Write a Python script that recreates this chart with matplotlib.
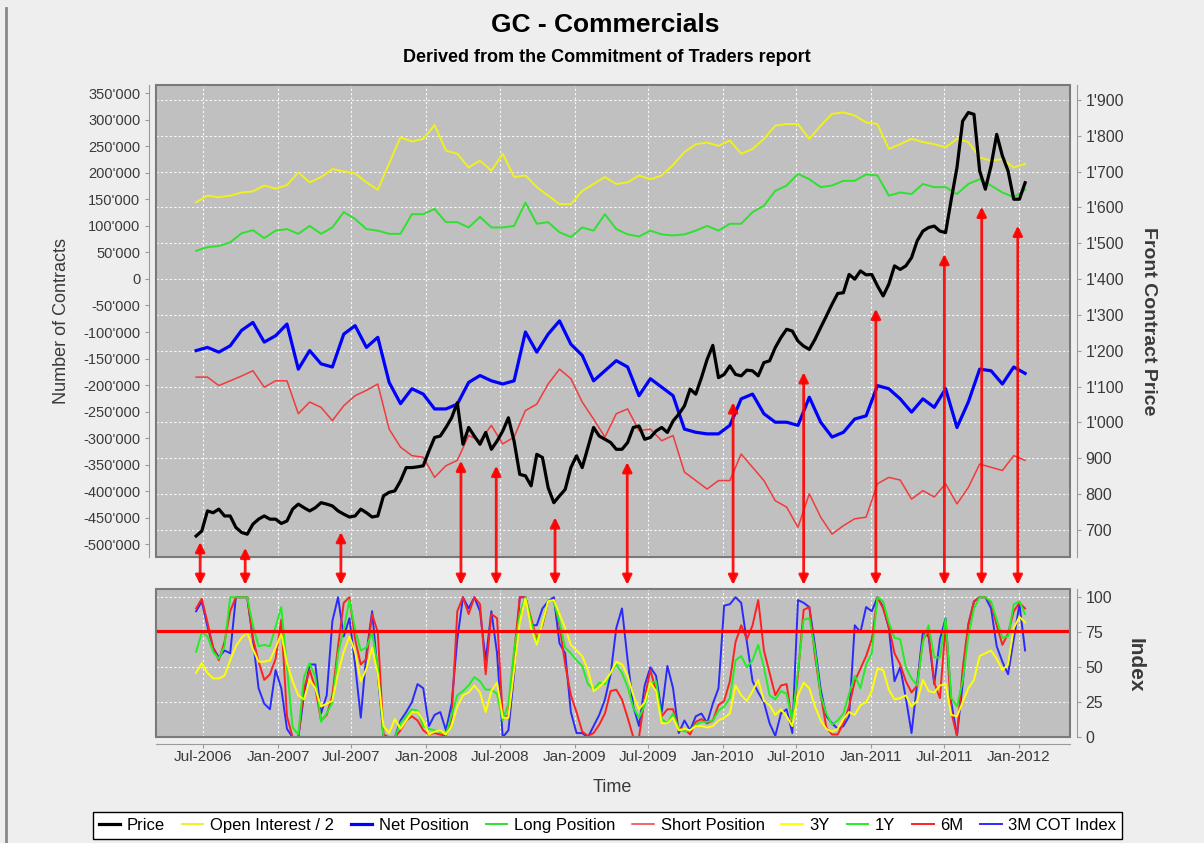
import matplotlib
matplotlib.use("Agg")
import matplotlib.pyplot as plt
import matplotlib.dates as mdates
import matplotlib.transforms as mtransforms
from matplotlib.patches import ConnectionPatch, Rectangle
from matplotlib.lines import Line2D
from matplotlib.ticker import FuncFormatter
import pandas as pd

# COT report dates (Tuesdays), sampled every 4 weeks for positions, 2 weeks for price / index
dates_4w = pd.date_range("2006-06-13", periods=74, freq="28D")
dates_2w = pd.date_range("2006-06-13", periods=147, freq="14D")

# positions, thousands of contracts
open_interest_half = [144.5, 157, 154, 157, 163, 165, 176, 170, 177, 201,
                      182, 192, 207, 203, 199, 182, 168, 218, 267, 259,
                      264, 290, 242, 236, 210, 223, 204, 236, 192, 195,
                      173, 157, 141, 141, 166, 179, 192, 179, 182, 195,
                      188, 195, 215, 239, 254, 257, 251, 261, 236, 245,
                      264, 289, 292, 292, 264, 289, 311, 314, 308, 295,
                      292, 245, 254, 264, 258, 254, 248, 264, 258, 229,
                      223, 226, 210, 217]
long_position = [53, 60, 62, 69, 86, 92, 77, 91, 94, 85,
                 100, 85, 97, 126, 113, 94, 91, 85, 85, 122,
                 122, 132, 107, 107, 97, 117, 97, 97, 100, 144,
                 104, 107, 88, 79, 97, 91, 122, 94, 84, 80,
                 91, 84, 82, 84, 91, 100, 91, 104, 104, 126,
                 138, 166, 176, 198, 188, 173, 176, 185, 185, 197,
                 195, 157, 163, 160, 179, 173, 173, 160, 179, 188,
                 176, 163, 154, 168]
net_position = [-135, -129, -138, -126, -97, -82, -119, -107, -85, -170,
                -135, -160, -166, -104, -88, -129, -110, -195, -235, -207,
                -217, -245, -245, -236, -195, -182, -192, -198, -192, -100,
                -138, -104, -79, -123, -144, -192, -173, -154, -166, -220,
                -188, -204, -220, -283, -289, -292, -292, -276, -226, -217,
                -254, -270, -270, -276, -223, -270, -298, -289, -264, -258,
                -201, -207, -226, -251, -226, -242, -207, -280, -232, -170,
                -173, -198, -166, -178]
short_position = [-185, -185, -201, -192, -183, -173, -204, -192, -192, -254,
                  -232, -242, -267, -239, -220, -210, -198, -283, -317, -333,
                  -336, -374, -352, -342, -295, -305, -276, -311, -298, -248,
                  -236, -198, -170, -188, -232, -264, -298, -254, -245, -286,
                  -283, -305, -295, -364, -380, -396, -380, -380, -330, -355,
                  -380, -418, -430, -468, -405, -449, -481, -465, -452, -449,
                  -386, -374, -379, -415, -399, -411, -386, -424, -393, -349,
                  -355, -361, -333, -342]

# front contract price
price = [683, 697, 753, 748, 758, 739, 739, 707, 693, 688,
         716, 730, 739, 730, 730, 718, 725, 758, 772, 762,
         753, 762, 776, 772, 767, 753, 744, 736, 739, 758,
         748, 736, 739, 795, 805, 809, 837, 874, 874, 876,
         879, 920, 958, 962, 986, 1013, 1055, 939, 986, 962,
         939, 972, 925, 948, 976, 1013, 948, 855, 851, 823,
         911, 902, 818, 776, 795, 813, 874, 907, 874, 930,
         986, 962, 953, 944, 925, 925, 944, 986, 990, 953,
         958, 976, 986, 972, 1004, 1023, 1046, 1093, 1079, 1125,
         1176, 1215, 1125, 1134, 1158, 1134, 1130, 1146, 1144, 1130,
         1167, 1172, 1209, 1237, 1260, 1255, 1227, 1213, 1204, 1232,
         1265, 1297, 1330, 1360, 1362, 1413, 1400, 1423, 1412, 1413,
         1381, 1353, 1386, 1437, 1427, 1437, 1460, 1507, 1534, 1544,
         1548, 1534, 1530, 1623, 1711, 1841, 1865, 1860, 1702, 1651,
         1716, 1804, 1744, 1702, 1623, 1623, 1669]

# COT index (0-100)
index_3y = [46, 53, 46, 42, 42, 44, 55, 65, 71, 75,
            63, 54, 54, 55, 64, 74, 53, 40, 30, 27,
            41, 35, 22, 24, 26, 46, 61, 72, 61, 40,
            49, 64, 45, 8, 3, 13, 6, 12, 18, 18,
            12, 2, 4, 5, 2, 8, 22, 30, 32, 37,
            32, 18, 33, 39, 14, 14, 48, 82, 99, 78,
            66, 82, 97, 98, 88, 78, 66, 62, 58, 48,
            33, 36, 40, 46, 54, 52, 44, 30, 20, 25,
            39, 33, 10, 10, 14, 5, 6, 5, 8, 8,
            7, 8, 12, 14, 17, 37, 30, 26, 33, 41,
            26, 23, 16, 20, 15, 8, 30, 39, 35, 22,
            12, 6, 4, 6, 13, 18, 16, 23, 25, 33,
            49, 48, 34, 27, 28, 30, 22, 26, 41, 33,
            32, 37, 38, 16, 15, 25, 35, 41, 58, 60,
            62, 56, 48, 52, 78, 86, 82]
index_1y = [61, 75, 72, 61, 56, 65, 100, 100, 100, 100,
            80, 65, 66, 65, 79, 93, 50, 7, 2, 43,
            53, 43, 11, 17, 25, 60, 77, 98, 77, 62,
            64, 75, 50, 0, 0, 0, 10, 15, 20, 19,
            8, 6, 5, 4, 2, 16, 30, 33, 37, 43,
            40, 34, 34, 31, 12, 24, 62, 88, 100, 83,
            68, 81, 98, 97, 82, 64, 60, 55, 51, 38,
            34, 39, 38, 46, 52, 46, 36, 21, 14, 23,
            39, 40, 13, 10, 17, 6, 4, 5, 9, 11,
            11, 12, 19, 22, 28, 55, 58, 50, 55, 66,
            50, 30, 27, 33, 31, 12, 48, 84, 85, 62,
            30, 17, 9, 12, 17, 31, 44, 35, 52, 60,
            100, 97, 82, 71, 70, 50, 42, 37, 68, 80,
            57, 57, 85, 28, 22, 40, 72, 92, 100, 100,
            97, 84, 71, 72, 95, 97, 88]
index_6m = [92, 99, 82, 64, 55, 68, 90, 100, 100, 100,
            71, 54, 41, 45, 56, 84, 15, 0, 0, 35,
            48, 35, 12, 16, 30, 65, 96, 100, 70, 52,
            56, 88, 75, 2, 0, 0, 5, 12, 15, 12,
            5, 2, 3, 2, 1, 14, 90, 100, 88, 100,
            95, 45, 88, 85, 15, 15, 60, 100, 100, 85,
            70, 80, 97, 98, 80, 52, 30, 18, 4, 1,
            3, 9, 17, 33, 34, 27, 14, 0, 0, 28,
            48, 33, 15, 20, 20, 6, 6, 2, 11, 13,
            10, 12, 23, 26, 40, 68, 80, 70, 80, 98,
            62, 46, 30, 37, 38, 10, 45, 91, 93, 58,
            30, 7, 2, 2, 10, 22, 40, 49, 58, 70,
            100, 92, 79, 60, 52, 40, 32, 37, 70, 75,
            39, 28, 80, 18, 1, 49, 81, 97, 100, 100,
            96, 80, 66, 74, 90, 96, 92]
index_3m = [90, 97, 79, 64, 57, 62, 60, 100, 100, 100,
            70, 35, 24, 20, 48, 35, 6, 0, 0, 30,
            52, 52, 17, 30, 83, 100, 72, 85, 52, 14,
            60, 90, 45, 0, 0, 0, 12, 18, 25, 38,
            35, 8, 16, 18, 5, 24, 70, 100, 92, 100,
            90, 55, 90, 60, 0, 5, 45, 100, 100, 80,
            80, 92, 97, 100, 67, 60, 18, 3, 3, 0,
            8, 16, 27, 45, 78, 92, 55, 22, 8, 37,
            50, 44, 18, 51, 35, 3, 12, 5, 15, 17,
            10, 24, 35, 94, 95, 100, 96, 68, 40, 32,
            25, 10, 1, 17, 20, 3, 98, 96, 93, 65,
            34, 15, 10, 6, 8, 15, 80, 75, 93, 90,
            100, 93, 78, 40, 50, 28, 3, 39, 75, 72,
            38, 70, 85, 25, 1, 38, 80, 97, 100, 100,
            92, 65, 54, 45, 70, 95, 62]
index_threshold = 76

# signal arrows: date and price level they point at
arrow_dates = ["2006-06-23", "2006-10-12", "2007-06-05", "2008-03-27", "2008-06-22",
               "2008-11-14", "2009-05-11", "2010-01-27", "2010-07-20", "2011-01-14",
               "2011-07-02", "2011-10-02", "2011-12-30"]
arrow_prices = [666, 650, 694, 893, 879, 735, 889, 1056, 1140, 1317, 1470, 1602, 1549]

tick_dates = pd.to_datetime(["2006-07-01", "2007-01-01", "2007-07-01", "2008-01-01",
                             "2008-07-01", "2009-01-01", "2009-07-01", "2010-01-01",
                             "2010-07-01", "2011-01-01", "2011-07-01", "2012-01-01"])

plt.rcParams["font.family"] = ["Liberation Sans", "DejaVu Sans"]

BG = "#eeeeee"
PLOT_BG = "#c0c0c0"
AXIS_C = "#9a9a9a"
TXT = "#3a3a3a"
GRID = dict(color="white", linestyle=(0, (2, 2)), linewidth=0.8, alpha=0.9)


def apostrophe(v, pos):
    return f"{int(round(v)):,}".replace(",", "'")


fig = plt.figure(figsize=(12.04, 8.43), dpi=100, facecolor=BG)
ax = fig.add_axes([0.1292, 0.3393, 0.7596, 0.5599])
axp = ax.twinx()
axi = fig.add_axes([0.1292, 0.1254, 0.7596, 0.1756])

xlim = (pd.Timestamp("2006-03-05"), pd.Timestamp("2012-05-07"))

# --- upper panel: positions + price
ax.set_facecolor(PLOT_BG)
loi, = ax.plot(dates_4w, [v * 1000 for v in open_interest_half], color="#f0f020", lw=1.4)
llong, = ax.plot(dates_4w, [v * 1000 for v in long_position], color="#30e030", lw=1.4)
lshort, = ax.plot(dates_4w, [v * 1000 for v in short_position], color="#f03c3c", lw=1.1)
lnet, = ax.plot(dates_4w, [v * 1000 for v in net_position], color="#0000ff", lw=2.3)
lprice, = axp.plot(dates_2w, price, color="black", lw=2.3)

c_lim = (-524000, 365600)
p_lim = (624.5, 1941.9)
ax.set_ylim(*c_lim)
axp.set_ylim(*p_lim)
ax.set_xlim(*xlim)
ax.set_yticks(range(-500000, 350001, 50000))
axp.set_yticks(range(700, 1901, 100))
ax.yaxis.set_major_formatter(FuncFormatter(apostrophe))
axp.yaxis.set_major_formatter(FuncFormatter(apostrophe))
ax.set_xticks(tick_dates)
ax.tick_params(axis="x", length=0, labelbottom=False)
ax.set_axisbelow(True)
ax.grid(axis="x", **GRID)
# horizontal grid follows the price axis
for p in range(700, 1901, 100):
    yc = c_lim[0] + (p - p_lim[0]) * (c_lim[1] - c_lim[0]) / (p_lim[1] - p_lim[0])
    ax.axhline(yc, zorder=0.5, **GRID)

for s in ["top", "bottom", "right"]:
    ax.spines[s].set_visible(False)
for s in ["top", "bottom", "left"]:
    axp.spines[s].set_visible(False)
ax.spines["left"].set_position(("outward", 5))
axp.spines["right"].set_position(("outward", 5))
ax.spines["left"].set_color(AXIS_C)
axp.spines["right"].set_color(AXIS_C)
ax.tick_params(axis="y", length=3, color=AXIS_C, labelsize=10.5, labelcolor=TXT, pad=3)
axp.tick_params(axis="y", length=3, color=AXIS_C, labelsize=11.5, labelcolor=TXT, pad=3)
axp.add_patch(Rectangle((0, 0), 1, 1, transform=axp.transAxes, fill=False,
                        ec="#7a7a7a", lw=1.5, clip_on=False, zorder=5))

# --- lower panel: COT index
axi.set_facecolor(PLOT_BG)
l3m, = axi.plot(dates_2w, index_3m, color="#2a2aff", lw=1.4)
l6m, = axi.plot(dates_2w, index_6m, color="#ff2020", lw=1.4)
l1y, = axi.plot(dates_2w, index_1y, color="#22ee22", lw=1.4)
l3y, = axi.plot(dates_2w, index_3y, color="#ffff00", lw=1.4)
axi.axhline(index_threshold, color="red", lw=2.3)
axi.set_ylim(0, 105.7)
axi.set_xlim(*xlim)
axi.yaxis.tick_right()
axi.set_yticks([0, 25, 50, 75, 100])
axi.set_xticks(tick_dates)
axi.xaxis.set_major_formatter(mdates.DateFormatter("%b-%Y"))
axi.set_axisbelow(True)
axi.grid(True, **GRID)
for s in ["top", "left"]:
    axi.spines[s].set_visible(False)
axi.spines["right"].set_position(("outward", 5))
axi.spines["bottom"].set_position(("outward", 4.5))
axi.spines["right"].set_color(AXIS_C)
axi.spines["bottom"].set_color(AXIS_C)
axi.tick_params(axis="y", length=3, color=AXIS_C, labelsize=11.5, labelcolor=TXT, pad=3)
axi.tick_params(axis="x", length=3, color=AXIS_C, labelsize=11, labelcolor=TXT, pad=2)
axi.add_patch(Rectangle((0, 0), 1, 1, transform=axi.transAxes, fill=False,
                        ec="#7a7a7a", lw=1.5, clip_on=False, zorder=5))

# --- arrows linking index signals to price
trans_b = mtransforms.blended_transform_factory(axi.transData, axi.transAxes)
for d, p in zip(arrow_dates, arrow_prices):
    xd = mdates.date2num(pd.Timestamp(d).to_pydatetime())
    con = ConnectionPatch(xyA=(xd, p), coordsA=axp.transData,
                          xyB=(xd, 1.03), coordsB=trans_b,
                          arrowstyle="<|-|>", mutation_scale=14,
                          color="red", lw=2.0, alpha=0.9, shrinkA=0, shrinkB=0)
    fig.add_artist(con)

# --- texts
fig.text(0.503, 1 - 25 / 843, "GC - Commercials", ha="center", va="center",
         fontsize=19, fontweight="bold")
fig.text(0.5037, 1 - 58 / 843, "Derived from the Commitment of Traders report",
         ha="center", va="center", fontsize=13, fontweight="bold")
fig.text(62 / 1204, 1 - 321 / 843, "Number of Contracts", rotation=90,
         ha="center", va="center", fontsize=13, color=TXT)
fig.text(1148 / 1204, 1 - 321 / 843, "Front Contract Price", rotation=270,
         ha="center", va="center", fontsize=14, fontweight="bold", color=TXT)
fig.text(1135 / 1204, 1 - 665 / 843, "Index", rotation=270,
         ha="center", va="center", fontsize=15, fontweight="bold", color=TXT)
fig.text(612 / 1204, 1 - 788 / 843, "Time", ha="center", va="center",
         fontsize=13, color=TXT)

handles = [lprice, loi, lnet, llong, lshort, l3y, l1y, l6m, l3m]
labels = ["Price", "Open Interest / 2", "Net Position", "Long Position",
          "Short Position", "3Y", "1Y", "6M", "3M COT Index"]
leg = fig.legend(handles, labels, loc="upper center", bbox_to_anchor=(0.5046, 1 - 812 / 843),
                 ncol=9, fontsize=12, frameon=True, fancybox=False, edgecolor="black",
                 facecolor="white", framealpha=1, handlelength=1.3, handletextpad=0.4,
                 columnspacing=1.0, borderpad=0.35, borderaxespad=0)
leg.get_frame().set_linewidth(1.0)

# image border on the left
fig.add_artist(Line2D([6 / 1204, 6 / 1204], [0, 1 - 8 / 843], transform=fig.transFigure,
                      color="#888888", lw=2))

fig.savefig("out.png", dpi=100, facecolor=BG)
